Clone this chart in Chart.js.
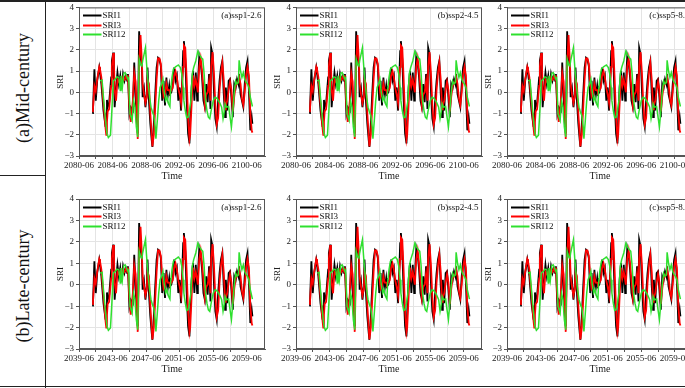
<!DOCTYPE html>
<html>
<head>
<meta charset="utf-8">
<script src="https://cdn.jsdelivr.net/npm/chart.js@4.4.1/dist/chart.umd.min.js"></script>
<style>
body{margin:0;background:#fff;overflow:hidden}
#wrap{position:relative;width:685px;height:388px;overflow:hidden;background:#fff}
canvas{position:absolute}
.rowlab{position:absolute;left:23px;font-family:"Liberation Serif",serif;font-size:18px;white-space:nowrap;color:#111;
  transform:translate(-50%,-50%) rotate(-90deg)}
.line{position:absolute;background:#222}
</style>
</head>
<body>
<div id="wrap">
  <div class="line" style="left:0;top:0;width:685px;height:2px"></div>
  <div class="line" style="left:45px;top:0;width:1px;height:388px"></div>
  <div class="line" style="left:0;top:175px;width:46px;height:1px"></div>
  <div class="line" style="left:0;top:386px;width:685px;height:1px"></div>
  <div class="rowlab" style="top:88px">(a)Mid-century</div>
  <div class="rowlab" style="top:286px">(b)Late-century</div>
</div>
<script>
// months counted from the first tick (xxxx-06)
var monthsFast = [19,20,22,24,26,29,30,32,35,38,
  39,40,41,43,46,47,49,50,51,53,
  55,57,59,61,63,65,67,69,70,72,
  74,77,79,81,83,84,86,88,90,91,
  93,95,97,98,100,102,104,105,107,109,
  111,113,115,117,119,121,123,125,127,129,
  130,132,134,136,138,140,142,144,146,149,
  150,152,154,156,158,159,161,163,165,167,
  169,170,172,174,176,178,180,182,184,186,
  188,189,191,193,195,197,199,201,203,205,
  207,209,210,212,214,216,218,220,222,224,
  226,228,229,231,233,235,237,239,241,243,
  245,247,248];
var sri1 = [-0.98,-0.86,1.09,-0.39,0.54,1.17,0.93,0.39,-0.86,-1.63,
  -1.01,-0.36,-0.70,-0.54,0.70,1.48,1.87,0.70,-0.70,0.23,
  0.93,0.39,0.78,0.16,0.86,0.54,0.78,0.54,0.86,-1.01,
  -0.70,-0.86,1.40,-0.23,-1.63,-1.94,2.88,1.63,1.17,-0.23,
  0.16,-0.70,-0.08,1.17,-0.39,-1.48,-2.25,-2.57,-1.48,-0.08,
  1.17,1.63,1.56,1.24,-0.39,0.54,-0.62,0.70,-0.16,0.31,
  -0.08,0.00,0.31,1.17,0.54,0.78,-0.39,0.23,-0.86,1.94,
  2.41,1.56,-0.39,-1.94,-2.41,-1.32,0.23,1.01,-0.39,0.93,
  -0.39,0.39,1.71,1.40,0.70,-0.39,-0.70,0.39,-0.47,0.86,
  -0.78,2.10,1.79,0.08,-1.24,-1.63,-0.39,0.54,1.17,1.48,
  -0.08,-1.17,0.23,-0.86,0.54,0.62,-0.23,-1.17,0.39,0.20,
  0.62,0.39,0.86,-0.08,-0.39,-0.70,0.39,1.17,1.48,0.08,
  -1.79,-1.17,-1.48];
var sri3 = [-0.90,-0.80,0.30,0.05,0.60,1.20,1.10,0.70,-0.50,-1.70,
  -2.00,-1.40,-0.90,-0.80,0.30,1.20,1.85,1.30,0.10,-0.40,
  0.60,0.50,0.60,0.30,0.70,0.60,0.75,0.60,0.80,-0.60,
  -1.40,-0.40,0.90,0.50,-1.20,-2.20,1.20,2.70,1.40,0.40,
  -0.10,-0.50,-0.20,0.60,0.40,-1.00,-2.00,-2.55,-2.00,-0.70,
  0.60,1.60,1.60,1.35,0.40,-0.20,-0.10,0.40,0.10,0.10,
  0.00,0.10,0.20,0.80,1.00,0.70,0.20,-0.10,-0.50,1.20,
  2.20,2.10,0.60,-1.20,-2.20,-2.00,-0.60,0.80,0.30,0.60,
  0.20,0.00,1.20,1.60,1.00,0.20,-0.60,-0.10,0.00,0.50,
  -0.40,1.20,1.90,0.90,-0.60,-1.50,-1.20,0.10,0.90,1.40,
  0.60,-0.80,-0.60,-0.40,0.10,0.50,0.10,-0.90,-0.20,0.30,
  0.40,0.50,0.70,0.40,-0.30,-0.60,0.00,0.80,1.20,0.80,
  -1.00,-1.80,-1.90];
var monthsSlow = [30,33,35,38,40,42,45,47,49,50,
  52,54,57,59,60,62,64,66,68,70,
  71,73,76,78,80,82,84,86,88,90,
  91,93,95,97,99,101,103,105,107,109,
  110,112,114,116,118,120,122,124,126,128,
  130,131,133,135,138,140,142,145,147,149,
  150,152,154,156,158,160,162,164,167,170,
  172,175,177,179,181,183,185,187,189,192,
  195,198,201,204,206,208,209,211,214,216,
  218,220,222,224,226,228,229,231,233,235,
  237,239,241,243,245,248];
var sri12 = [0.54,0.58,-0.23,-1.32,-1.94,-2.13,-2.02,-0.86,0.54,0.54,
  0.62,0.73,0.70,0.08,0.78,0.23,0.89,0.93,0.78,0.62,
  0.67,-1.01,-1.32,-0.39,-0.70,-1.63,-2.10,1.56,1.32,1.24,
  1.48,1.79,2.10,1.17,0.39,-0.23,-0.70,-0.93,-1.09,-1.63,
  -2.18,-1.32,-0.39,0.23,0.39,0.62,0.00,-0.39,-0.23,-0.54,
  -0.67,0.08,0.70,1.09,1.20,1.24,1.29,1.17,0.86,0.23,
  -0.39,-0.86,-1.20,-1.17,-0.86,-0.39,0.86,1.17,1.48,1.94,
  1.79,1.63,1.56,0.86,-0.39,-0.86,-1.17,-1.24,-0.86,-0.39,
  -0.23,-0.31,-0.47,-0.70,-1.24,-0.86,-0.54,-0.70,-0.67,-1.17,
  -1.63,-0.86,0.00,0.54,0.39,0.47,1.51,1.01,0.70,0.93,
  0.62,0.47,0.39,0.23,-0.23,-0.67];

var midTicks = ['2080-06','2084-06','2088-06','2092-06','2096-06','2100-06'];
var lateTicks = ['2039-06','2043-06','2047-06','2051-06','2055-06','2059-06'];
var scenarios = ['(a)ssp1-2.6','(b)ssp2-4.5','(c)ssp5-8.5'];
var seriesNames = ['SRI1','SRI3','SRI12'];
var seriesColors = ['#000000','#ff0000','#2ee02e'];

Chart.defaults.font.family = '"Liberation Serif", "Times New Roman", serif';
Chart.defaults.color = '#222';

function pts(xs, ys){
  return xs.map(function(x, i){ return {x: x, y: ys[i]}; });
}

var panelDecor = {
  id: 'panelDecor',
  afterDatasetsDraw: function(chart, args, opts){
    var ctx = chart.ctx, a = chart.chartArea;
    ctx.save();
    ctx.strokeStyle = '#555';
    ctx.lineWidth = 1;
    ctx.strokeRect(a.left + 0.5, a.top + 0.5, a.width - 1, a.height - 1);
    ctx.font = '9px "Liberation Serif"';
    ctx.textBaseline = 'middle';
    chart.data.datasets.forEach(function(ds, i){
      var y = Math.round(a.top + 8 + i * 9.4) + 0.5;
      ctx.strokeStyle = ds.borderColor;
      ctx.lineWidth = 2;
      ctx.beginPath();
      ctx.moveTo(a.left + 4, y);
      ctx.lineTo(a.left + 22.5, y);
      ctx.stroke();
      ctx.fillStyle = '#111';
      ctx.textAlign = 'left';
      ctx.fillText(ds.label, a.left + 23.5, y);
    });
    ctx.textAlign = 'right';
    ctx.fillText(opts.tag, a.right - 3.5, a.top + 8.5);
    ctx.restore();
  }
};

var wrap = document.getElementById('wrap');
var lefts = [48, 265, 476];
var rows = [
  {top: 0, height: 186, pad: 6, ticks: midTicks},
  {top: 186, height: 193, pad: 13, ticks: lateTicks}
];

rows.forEach(function(row){
  lefts.forEach(function(left, c){
    var cv = document.createElement('canvas');
    cv.width = 219; cv.height = row.height;
    cv.style.left = left + 'px';
    cv.style.top = row.top + 'px';
    cv.style.width = '219px';
    cv.style.height = row.height + 'px';
    wrap.appendChild(cv);

    new Chart(cv, {
      type: 'line',
      data: {
        datasets: [
          {label: seriesNames[0], data: pts(monthsFast, sri1), borderColor: seriesColors[0], borderWidth: 1.8, order: 3},
          {label: seriesNames[1], data: pts(monthsFast, sri3), borderColor: seriesColors[1], borderWidth: 1.8, order: 2},
          {label: seriesNames[2], data: pts(monthsSlow, sri12), borderColor: seriesColors[2], borderWidth: 1.5, order: 1}
        ]
      },
      options: {
        responsive: false,
        animation: false,
        devicePixelRatio: 1,
        layout: {padding: {top: row.pad, right: 2, bottom: 0, left: 0}},
        elements: {point: {radius: 0}, line: {tension: 0}},
        plugins: {
          legend: {display: false},
          tooltip: {enabled: false},
          panelDecor: {tag: scenarios[c]}
        },
        scales: {
          x: {
            type: 'linear',
            min: 0, max: 266,
            afterBuildTicks: function(ax){
              ax.ticks = [0,24,48,72,96,120,144,168,192,216,240].map(function(v){ return {value: v}; });
            },
            afterFit: function(ax){ ax.height = 30; },
            ticks: {
              autoSkip: false, maxRotation: 0, padding: 1,
              font: {size: 9},
              callback: function(v){ return v % 48 === 0 ? row.ticks[v / 48] : ''; }
            },
            grid: {color: '#e4e4e4', tickLength: 3, tickColor: '#555'},
            border: {color: '#555'},
            title: {display: true, text: 'Time', font: {size: 10}, padding: {top: 0, bottom: 4}}
          },
          y: {
            min: -3, max: 4,
            afterFit: function(ax){ ax.width = 31; },
            ticks: {
              stepSize: 1, padding: 2, font: {size: 9},
              callback: function(v){ return v < 0 ? '\u2212' + Math.abs(v) : String(v); }
            },
            grid: {color: '#e4e4e4', tickLength: 3, tickColor: '#555'},
            border: {color: '#555'},
            title: {display: true, text: 'SRI', font: {size: 9}, padding: {top: 7, bottom: 0}}
          }
        }
      },
      plugins: [panelDecor]
    });
  });
});
</script>
</body>
</html>
